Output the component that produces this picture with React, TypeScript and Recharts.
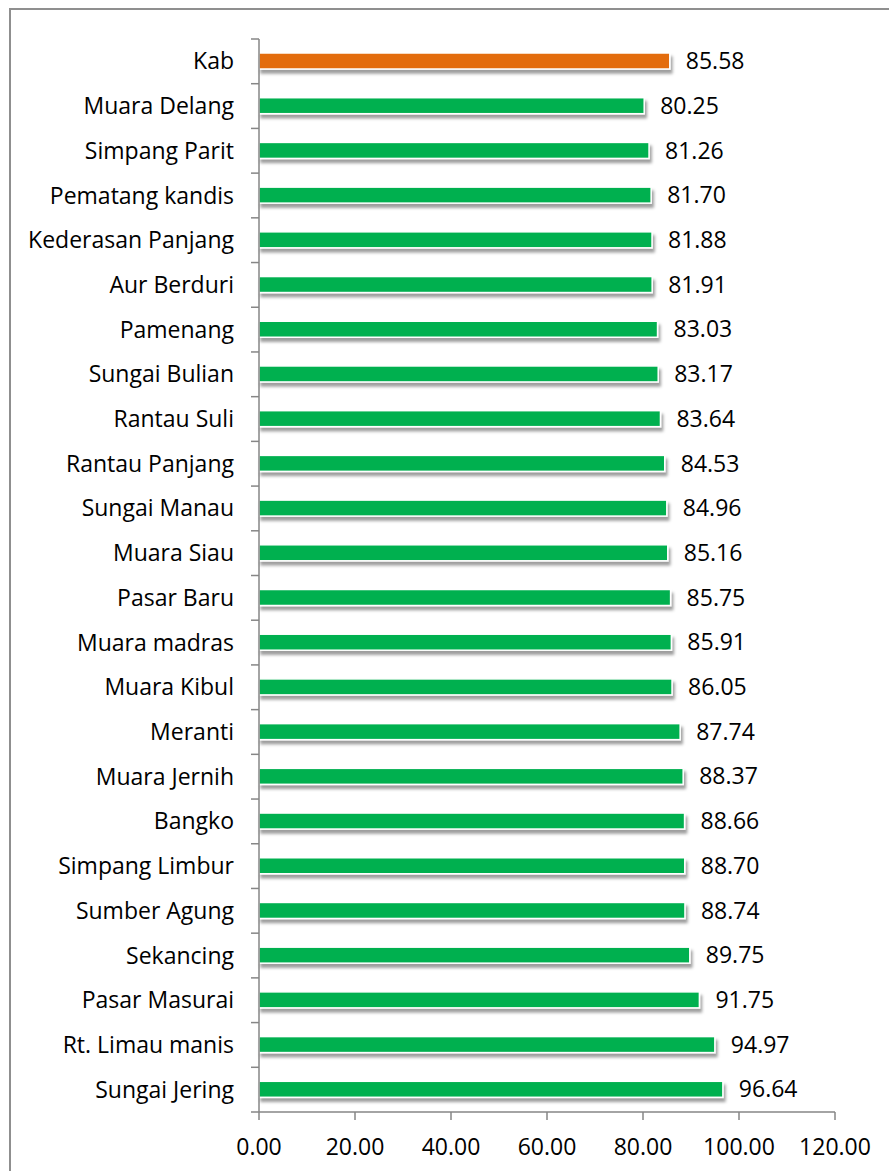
import React from "react";
import { BarChart, Bar, XAxis, YAxis, Cell, LabelList } from "recharts";

const categories = [
  "Kab", "Muara Delang", "Simpang Parit", "Pematang kandis", "Kederasan Panjang",
  "Aur Berduri", "Pamenang", "Sungai Bulian", "Rantau Suli", "Rantau Panjang",
  "Sungai Manau", "Muara Siau", "Pasar Baru", "Muara madras", "Muara Kibul",
  "Meranti", "Muara Jernih", "Bangko", "Simpang Limbur", "Sumber Agung",
  "Sekancing", "Pasar Masurai", "Rt. Limau manis", "Sungai Jering",
];
const values = [
  85.58, 80.25, 81.26, 81.7, 81.88, 81.91, 83.03, 83.17, 83.64, 84.53,
  84.96, 85.16, 85.75, 85.91, 86.05, 87.74, 88.37, 88.66, 88.7, 88.74,
  89.75, 91.75, 94.97, 96.64,
];
const xTicks = [0, 20, 40, 60, 80, 100, 120];

const data = categories.map((name, i) => ({ name, value: values[i] }));

const W = 889;
const H = 1171;
const M = { top: 39, right: 54, bottom: 9, left: 0 };
const X_AXIS_H = 50;
const Y_AXIS_W = 259;
const PLOT_H = H - M.top - M.bottom - X_AXIS_H;
const BAND = PLOT_H / categories.length;
const FONT = "'Open Sans', sans-serif";
const FS = 23;
const AXIS_COLOR = "#868686";

const YTick = (props: any) => {
  const { y, payload, index } = props;
  const axisX = Y_AXIS_W;
  return (
    <g>
      <line x1={axisX - 8} x2={axisX} y1={y - BAND / 2} y2={y - BAND / 2} stroke={AXIS_COLOR} strokeWidth={1.5} />
      {index === categories.length - 1 && (
        <line x1={axisX - 8} x2={axisX} y1={y + BAND / 2} y2={y + BAND / 2} stroke={AXIS_COLOR} strokeWidth={1.5} />
      )}
      <text x={axisX - 25} y={y} dy="0.35em" textAnchor="end" fontFamily={FONT} fontSize={FS} fill="#000">
        {payload.value}
      </text>
    </g>
  );
};

const BarShape = (props: any) => {
  const { x, y, width, height, fill } = props;
  return (
    <rect x={x} y={y} width={width} height={height} fill={fill} stroke="#fff" strokeWidth={1.5} filter="url(#barShadow)" />
  );
};

export default function App() {
  return (
    <div style={{ position: "absolute", left: 0, top: 0, width: W, height: H, overflow: "hidden", background: "#fff" }}>
      <div
        style={{
          position: "absolute",
          left: 9,
          top: 8,
          width: 950,
          height: 1250,
          border: "2px solid #8f8f8f",
          boxSizing: "border-box",
        }}
      />
      <div style={{ position: "absolute", left: 0, top: 0 }}>
        <BarChart width={W} height={H} data={data} layout="vertical" margin={M} barSize={16}>
          <defs>
            <filter id="barShadow" x="-5%" y="-50%" width="110%" height="250%">
              <feDropShadow dx="2" dy="4" stdDeviation="1.8" floodColor="#000" floodOpacity="0.38" />
            </filter>
          </defs>
          <XAxis
            type="number"
            domain={[0, 120]}
            ticks={xTicks}
            tickFormatter={(v: number) => v.toFixed(2)}
            height={X_AXIS_H}
            tickSize={8}
            tickMargin={19}
            stroke={AXIS_COLOR}
            strokeWidth={1.5}
            tick={{ fill: "#000", fontFamily: FONT, fontSize: FS }}
            interval={0}
          />
          <YAxis
            type="category"
            dataKey="name"
            width={Y_AXIS_W}
            tickLine={false}
            stroke={AXIS_COLOR}
            strokeWidth={1.5}
            tick={<YTick />}
            interval={0}
          />
          <Bar dataKey="value" isAnimationActive={false} shape={<BarShape />}>
            {data.map((d, i) => (
              <Cell key={d.name} fill={i === 0 ? "#E36C09" : "#00B050"} />
            ))}
            <LabelList
              dataKey="value"
              position="right"
              offset={16}
              formatter={(v: number) => v.toFixed(2)}
              style={{ fontFamily: FONT, fontSize: FS, fill: "#000" }}
            />
          </Bar>
        </BarChart>
      </div>
    </div>
  );
}
